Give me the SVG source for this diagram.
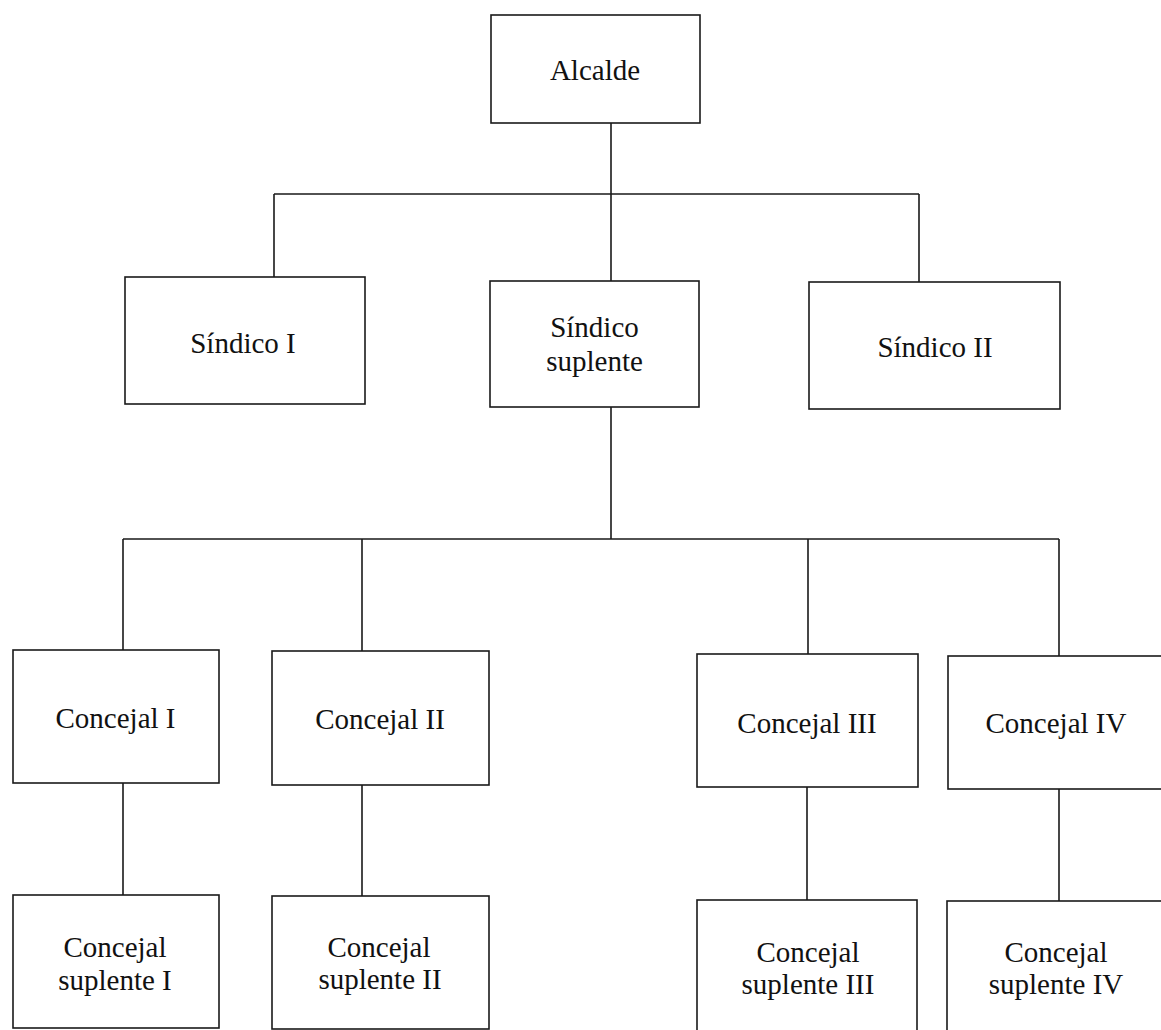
<svg xmlns="http://www.w3.org/2000/svg" width="1161" height="1030" viewBox="0 0 1161 1030">
<style>
.box{fill:#fff;stroke:#1a1a1a;stroke-width:1.6}
.ln{stroke:#1a1a1a;stroke-width:1.6;fill:none}
text{font-family:"Liberation Serif","Times New Roman",serif;font-size:29px;fill:#111;text-anchor:middle}
</style>
<rect width="1161" height="1030" fill="#fff"/>
<g id="connectors">
<path class="ln" d="M611 123V194M274 194H919M274 194V277M611 194V281M919 194V282"/>
<path class="ln" d="M611 407V539M123 539H1059M123 539V650M362 539V651M808 539V654M1059 539V656"/>
<path class="ln" d="M123 783V895M362 785V896M807 787V900M1059 789V901"/>
</g>
<g id="alcalde"><rect class="box" x="491" y="15" width="209" height="108"/><text x="595" y="80">Alcalde</text></g>
<g id="sindico1"><rect class="box" x="125" y="277" width="240" height="127"/><text x="243" y="353">Síndico I</text></g>
<g id="sindico_suplente"><rect class="box" x="490" y="281" width="209" height="126"/><text x="594.5" y="337">Síndico</text><text x="594.5" y="371">suplente</text></g>
<g id="sindico2"><rect class="box" x="809" y="282" width="251" height="127"/><text x="935" y="357">Síndico II</text></g>
<g id="concejal1"><rect class="box" x="13" y="650" width="206" height="133"/><text x="115.5" y="728">Concejal I</text></g>
<g id="concejal2"><rect class="box" x="272" y="651" width="217" height="134"/><text x="380" y="729">Concejal II</text></g>
<g id="concejal3"><rect class="box" x="697" y="654" width="221" height="133"/><text x="807" y="733">Concejal III</text></g>
<g id="concejal4"><rect class="box" x="948" y="656" width="220" height="133"/><text x="1056" y="733">Concejal IV</text></g>
<g id="suplente1"><rect class="box" x="13" y="895" width="206" height="133"/><text x="115" y="957">Concejal</text><text x="115" y="990">suplente I</text></g>
<g id="suplente2"><rect class="box" x="272" y="896" width="217" height="133"/><text x="379" y="957">Concejal</text><text x="380" y="989">suplente II</text></g>
<g id="suplente3"><rect class="box" x="697" y="900" width="220" height="140"/><text x="808" y="962">Concejal</text><text x="808" y="994">suplente III</text></g>
<g id="suplente4"><rect class="box" x="947" y="901" width="221" height="140"/><text x="1056" y="962">Concejal</text><text x="1056" y="994">suplente IV</text></g>
</svg>
